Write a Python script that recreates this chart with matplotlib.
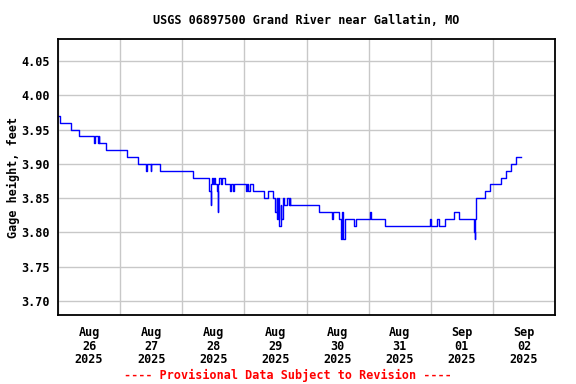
import matplotlib
matplotlib.use("Agg")
import matplotlib.pyplot as plt
import pandas as pd

# Punto de partida de la serie
inicio = pd.Timestamp("2025-08-26 00:00")

# Horas desde el inicio en las que cambia el nivel (lectura de la figura)
horas = [0, 0.75, 5.0, 8.0, 14.0, 14.25, 15.5, 15.75, 16.0, 18.5, 26.75, 31.0,
         34.0, 34.25, 35.75, 36.0, 39.5, 52.0, 58.5, 59.0, 59.25, 59.5, 60.0,
         60.25, 60.75, 61.25, 61.75, 62.0, 62.25, 63.0, 63.5, 64.5, 66.5, 67.0,
         67.75, 68.0, 72.75, 73.0, 73.5, 74.25, 75.25, 79.75, 81.0, 83.25, 84.0,
         84.5, 84.75, 85.0, 85.5, 86.0, 86.25, 86.75, 87.5, 88.5, 89.25, 89.5,
         89.75, 100.75, 105.75, 106.25, 108.5, 109.5, 109.75, 110.0, 110.75,
         114.5, 115.0, 120.5, 121.0, 126.25, 143.75, 144.25, 146.5, 147.0, 149.5,
         153.0, 155.0, 160.75, 161.0, 161.25, 161.5, 165.0, 166.75, 171.0, 173.0,
         175.0, 177.0, 178.75]

# Altura del agua (pies) a partir de cada hora
nivel = [3.97, 3.96, 3.95, 3.94, 3.93, 3.94, 3.93, 3.94, 3.93, 3.92, 3.91, 3.90,
         3.89, 3.90, 3.89, 3.90, 3.89, 3.88, 3.86, 3.84, 3.87, 3.88, 3.87,
         3.88, 3.87, 3.86, 3.83, 3.87, 3.88, 3.87, 3.88, 3.87, 3.86, 3.87,
         3.86, 3.87, 3.86, 3.87, 3.86, 3.87, 3.86, 3.85, 3.86, 3.85, 3.83,
         3.85, 3.82, 3.85, 3.81, 3.84, 3.82, 3.85, 3.84, 3.85, 3.84, 3.85,
         3.84, 3.83, 3.82, 3.83, 3.82, 3.79, 3.83, 3.79, 3.82,
         3.81, 3.82, 3.83, 3.82, 3.81, 3.82, 3.81, 3.82, 3.81, 3.82,
         3.83, 3.82, 3.80, 3.79, 3.82, 3.85, 3.86, 3.87, 3.88, 3.89,
         3.90, 3.91, 3.91]

dias = pd.date_range("2025-08-26", "2025-09-03", freq="D")
etiquetas = ["Aug\n26\n2025", "Aug\n27\n2025", "Aug\n28\n2025", "Aug\n29\n2025",
             "Aug\n30\n2025", "Aug\n31\n2025", "Sep\n01\n2025", "Sep\n02\n2025"]
yticks = [3.70, 3.75, 3.80, 3.85, 3.90, 3.95, 4.00, 4.05]

fuente = {"family": "DejaVu Sans Mono", "weight": "bold", "size": 8.5}

fechas = inicio + pd.to_timedelta(horas, unit="h")

fig = plt.figure(figsize=(5.76, 3.84), dpi=100)
ax = fig.add_axes([58 / 576, 1 - 315 / 384, 497 / 576, 276 / 384])

ax.plot(fechas, nivel, color="#0000ff", linewidth=1, drawstyle="steps-post")

ax.set_xlim(dias[0], dias[-1])
ax.set_ylim(3.6796, 4.082)

# Rejilla en la medianoche, etiquetas al mediodia
ax.set_xticks(dias, minor=True)
ax.set_xticks(dias[:-1] + pd.Timedelta(hours=12))
ax.set_xticklabels(etiquetas, fontdict=fuente, linespacing=1.05)
ax.grid(True, which="minor", axis="x", color="#c8c8c8", linewidth=1)
ax.set_yticks(yticks)
ax.set_yticklabels(["%.2f" % v for v in yticks], fontdict=fuente)
ax.grid(True, which="major", axis="y", color="#c8c8c8", linewidth=1)
ax.tick_params(which="both", length=0)
ax.tick_params(axis="x", pad=8)
ax.tick_params(axis="y", pad=6)
ax.set_axisbelow(True)

for s in ax.spines.values():
    s.set_linewidth(1.3)

ax.set_ylabel("Gage height, feet", fontdict=fuente, labelpad=0.5)
ax.set_title("USGS 06897500 Grand River near Gallatin, MO", fontdict=fuente, pad=11)

fig.text(288 / 576, 1 - 375 / 384, "---- Provisional Data Subject to Revision ----",
         color="red", ha="center", va="center", **fuente)

fig.savefig("out.png", dpi=100)
